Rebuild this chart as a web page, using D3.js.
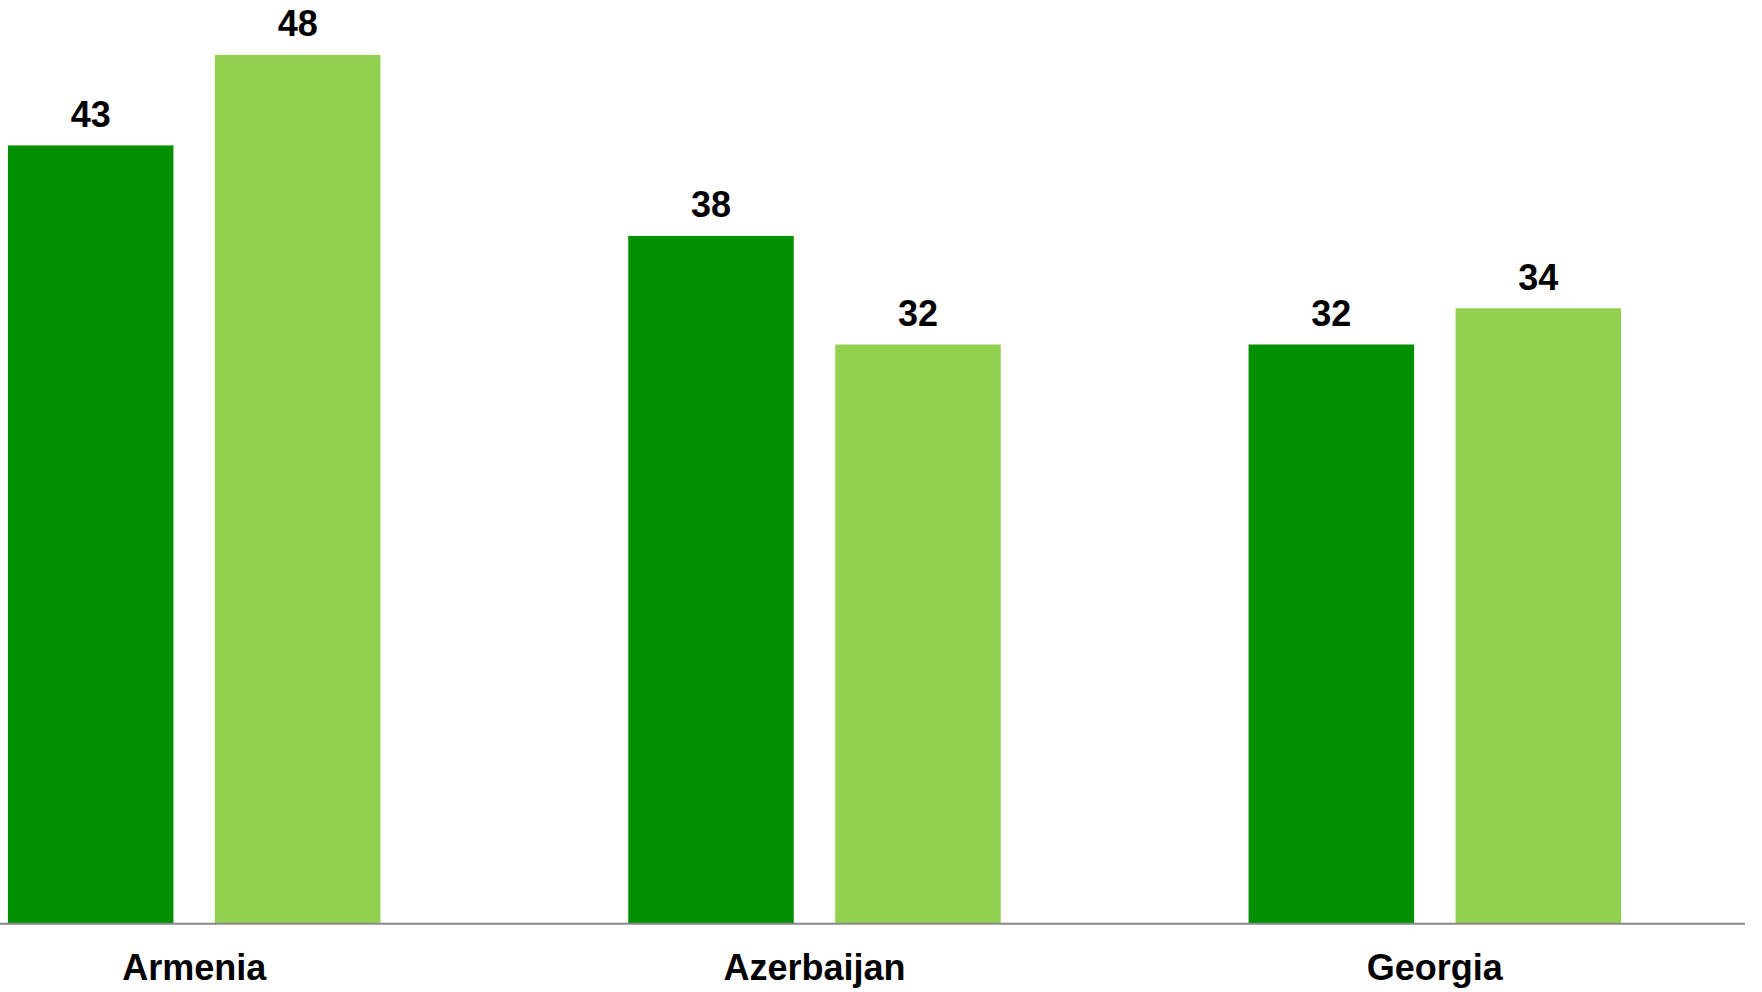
<!DOCTYPE html>
<html><head><meta charset="utf-8">
<script src="https://cdn.jsdelivr.net/npm/d3@7"></script>
<style>html,body{margin:0;padding:0;background:#fff;}svg{display:block;}</style>
</head><body>
<div id="chart"></div>
<script>
const categories = ["Armenia", "Azerbaijan", "Georgia"];
const seriesNames = ["Series 1", "Series 2"];
const series1 = [43, 38, 32];
const series2 = [48, 32, 34];
const colors = ["#009000", "#92D050"];

const W = 1762, H = 992;
const svg = d3.select("#chart").append("svg").attr("width", W).attr("height", H);

const plotLeft = -116, plotRight = 1745, baseline = 923.7, plotTop = 18.7;
const groupW = 372.5;
const x0 = d3.scaleBand().domain(categories).range([plotLeft, plotRight]).paddingInner(0).paddingOuter(0);
const x1 = d3.scaleBand().domain(seriesNames).range([0, groupW]).paddingInner(41.5 / 207).paddingOuter(0);
const y = d3.scaleLinear().domain([0, 50]).range([baseline, plotTop]);

const data = categories.map((c, i) => ({cat: c, vals: [series1[i], series2[i]]}));
const groupOffset = (x0.bandwidth() - groupW) / 2;

const g = svg.append("g");
const groups = g.selectAll("g.grp").data(data).join("g")
  .attr("class", "grp")
  .attr("transform", d => `translate(${x0(d.cat) + groupOffset},0)`);

groups.selectAll("rect").data(d => d.vals.map((v, j) => ({v, s: seriesNames[j], j}))).join("rect")
  .attr("x", d => x1(d.s))
  .attr("width", x1.bandwidth())
  .attr("y", d => y(d.v))
  .attr("height", d => baseline - y(d.v))
  .attr("fill", d => colors[d.j]);

groups.selectAll("text").data(d => d.vals.map((v, j) => ({v, s: seriesNames[j], j}))).join("text")
  .attr("x", d => x1(d.s) + x1.bandwidth() / 2)
  .attr("y", d => y(d.v) - 18.7)
  .attr("text-anchor", "middle")
  .attr("font-family", "Liberation Sans, Arial, sans-serif")
  .attr("font-weight", "bold")
  .attr("font-size", 36)
  .attr("fill", "#000")
  .text(d => d.v);

// axis
const axis = d3.axisBottom(x0).tickSize(0).tickPadding(0);
const ax = svg.append("g").attr("transform", `translate(0,${baseline})`).call(axis);
ax.select(".domain").attr("stroke", "#898989").attr("stroke-width", 2).attr("d", `M0,0H${plotRight}`);
ax.selectAll(".tick text")
  .attr("font-family", "Liberation Sans, Arial, sans-serif")
  .attr("font-weight", "bold")
  .attr("font-size", 36)
  .attr("fill", "#000")
  .attr("dy", null)
  .attr("y", 980 - baseline);
</script>
</body></html>
